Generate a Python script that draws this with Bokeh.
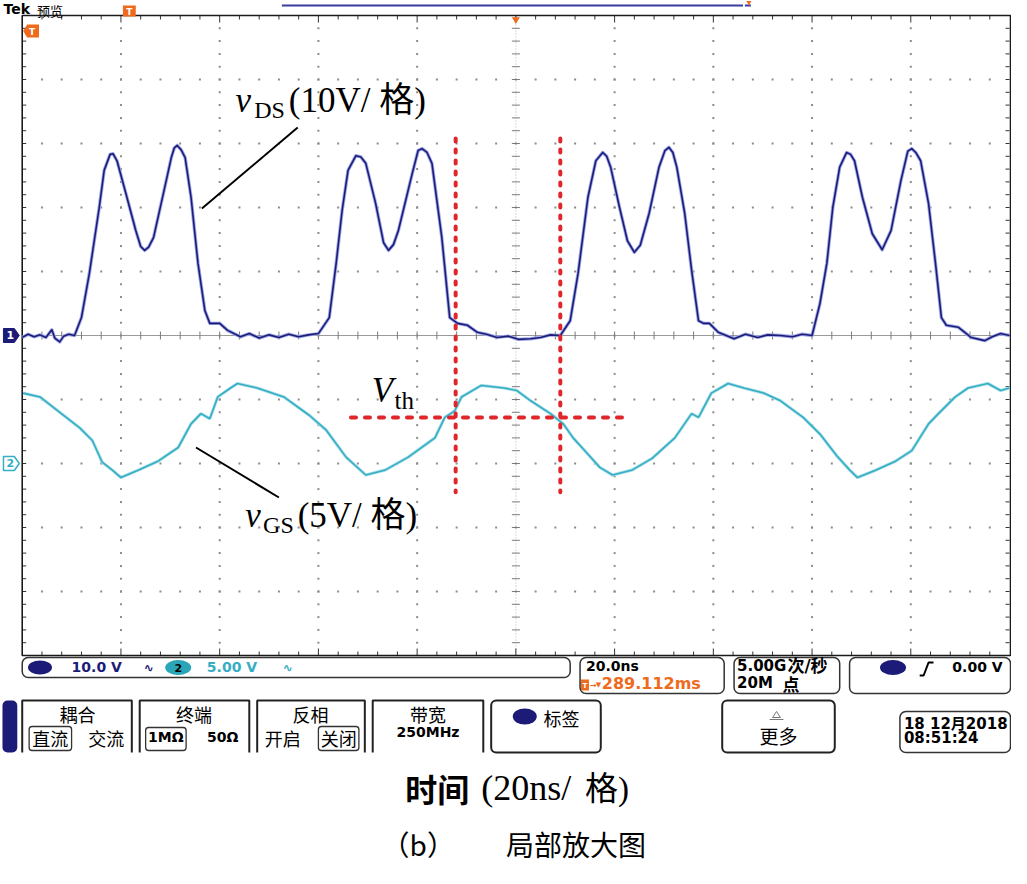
import numpy as np
from bokeh.plotting import figure
from bokeh.models import Range1d
from bokeh.core.properties import value
from bokeh.embed import file_html
from bokeh.resources import INLINE

# ---------------- data ----------------
ns_per_div = 20.0
ch1_volts_per_div = 10.0
ch2_volts_per_div = 5.0
ch2_offset_div = -2.0

seg0_t = [0.0, 1.2, 2.4, 3.6, 4.8, 6.0, 6.6, 7.6, 8.4, 9.4, 10.6]
seg0_v = [-0.3, 0.2, -0.2, 0.1, -0.3, 0.9, -0.4, -1.0, -0.1, 0.2, 0.0]
pulse1_t = [12.0, 13.6, 15.6, 16.6, 17.8, 18.4, 19.2, 21.0, 23.0, 24.0, 24.8, 25.6, 26.6, 28.6, 30.2, 30.8,
            31.4, 32.2, 33.0, 34.2, 35.6, 37.0, 38.0, 40.0, 41.6, 44.2]
pulse1_v = [2.8, 9.7, 20.0, 25.8, 28.3, 28.4, 27.3, 22.2, 16.4, 13.9, 13.3, 13.8, 15.3, 22.2, 27.8, 29.3,
            29.7, 29.0, 27.8, 21.6, 11.3, 3.9, 1.9, 1.9, 0.8, -0.2]
seg1_t = [46.0, 48.0, 50.0, 52.0, 54.0, 56.0, 58.0, 60.0]
seg1_v = [0.3, -0.4, 0.1, -0.3, 0.2, -0.2, 0.1, 0.3]
pulse2_t = [62.2, 63.6, 64.8, 66.0, 67.6, 68.6, 69.6, 71.6, 73.2, 74.2, 75.2, 76.2, 79.0, 80.2, 81.0, 82.0,
            83.0, 85.0, 86.6, 88.2, 90.2, 92.2, 94.0, 96.2, 98.5, 100.5, 103.0, 105.0, 107.0, 109.0]
pulse2_v = [2.8, 11.3, 19.5, 25.8, 28.1, 27.9, 26.9, 20.6, 14.5, 13.3, 14.2, 16.4, 25.3, 28.9, 29.2, 28.6,
            26.9, 15.3, 2.8, 1.9, 1.6, 0.5, 0.2, -0.3, -0.1, -0.6, -0.5, -0.3, 0.1, 0.0]
pulse3_t = [111.0, 112.6, 114.6, 116.2, 117.6, 118.4, 119.2, 121.0, 122.6, 124.0, 125.2, 127.0, 129.0, 130.2,
            131.0, 131.8, 132.6, 134.2, 135.6, 137.0, 138.0, 139.2, 141.0, 144.2]
pulse3_v = [2.3, 9.7, 21.6, 27.3, 28.6, 28.0, 26.3, 20.0, 14.8, 13.0, 14.1, 19.1, 26.3, 28.9,
            29.4, 28.6, 26.3, 19.1, 10.2, 2.3, 1.9, 1.9, 0.5, -0.5]
seg3_t = [146.5, 149.0, 151.0, 153.6, 156.0, 158.0, 160.0]
seg3_v = [0.2, -0.3, 0.1, 0.0, -0.2, 0.2, 0.0]
pulse4_t = [161.6, 163.0, 164.2, 165.6, 167.0, 167.8, 168.6, 170.2, 172.2, 174.2, 176.0, 178.0, 179.4, 180.2,
            181.0, 182.0, 183.6, 185.0, 186.2, 187.2, 189.6, 192.2, 195.0, 196.5, 198.2, 200.0]
pulse4_v = [5.0, 11.3, 20.0, 26.3, 28.6, 28.3, 27.3, 21.6, 15.9, 13.4, 16.4, 24.2, 28.8, 29.2,
            28.6, 27.3, 20.6, 11.3, 2.8, 1.6, 1.3, -0.3, -0.8, -0.2, 0.3, 0.0]

vds_time_ns = seg0_t + pulse1_t + seg1_t + pulse2_t + pulse3_t + seg3_t + pulse4_t
vds_volts = seg0_v + pulse1_v + seg1_v + pulse2_v + pulse3_v + seg3_v + pulse4_v

vgs_time_ns = [0.2, 3.6, 7.6, 11.6, 14.2, 16.2, 18.2, 20.0, 23.6, 27.6, 31.6, 34.2, 36.2, 38.0, 39.6,
               42.2, 43.6, 47.6, 53.0, 58.2, 61.6, 65.6, 69.6, 73.6, 78.2, 83.6, 85.6, 87.6, 89.0,
               93.0, 97.6, 100.2, 103.0, 107.0, 109.6, 111.6, 114.2, 117.0, 119.6, 123.6, 127.6,
               132.2, 135.6, 137.0, 139.6, 143.0, 146.2, 150.2, 153.6, 158.2, 161.6, 165.0, 167.6,
               169.2, 173.0, 177.0, 180.2, 183.6, 185.6, 189.0, 191.6, 195.6, 198.2, 200.0]
vgs_volts = [5.5, 5.2, 4.0, 2.8, 1.8, 0.1, -0.5, -1.1, -0.5, 0.2, 1.25, 3.1, 3.9, 3.5, 5.2,
             5.9, 6.25, 5.9, 5.2, 3.75, 2.6, 0.5, -0.9, -0.5, 0.5, 2.0, 3.6, 4.1, 5.2,
             6.1, 5.9, 5.7, 4.9, 3.9, 3.1, 2.0, 0.9, -0.3, -0.9, -0.5, 0.4,
             2.0, 3.9, 3.6, 5.5, 6.25, 5.9, 5.5, 4.9, 3.6, 2.3, 0.6, -0.5,
             -1.1, -0.5, 0.2, 1.0, 3.1, 3.9, 5.2, 5.9, 6.25, 5.7, 5.9]

cursor_times_ns = [87.8, 109.0]
vth_volts = 3.6

# ---------------- canvas geometry ----------------
W, H = 1011, 868
SX = 0.9873
def cx(r):
    return SX * r
def cy(r):
    return r

GX0, GX1 = cx(22), cx(1022)
GY0, GY1 = cy(15), cy(655)
tspan = 10 * ns_per_div
kx = tspan / (GX1 - GX0)
v1span = 10 * ch1_volts_per_div
k1 = v1span / (GY1 - GY0)
v2top = (5 - ch2_offset_div) * ch2_volts_per_div
v2bot = (-5 - ch2_offset_div) * ch2_volts_per_div
k2 = (v2top - v2bot) / (GY1 - GY0)

p = figure(width=W, height=H, x_range=Range1d(0, W), y_range=Range1d(H, 0),
           output_backend="svg", toolbar_location=None, min_border=0,
           x_axis_type=None, y_axis_type=None)
p.grid.visible = False
p.outline_line_color = None
p.background_fill_color = "white"
p.extra_x_ranges = {"t": Range1d(-GX0 * kx, tspan + (W - GX1) * kx)}
p.extra_y_ranges = {"v1": Range1d(-v1span / 2 - (H - GY1) * k1, v1span / 2 + GY0 * k1),
                    "v2": Range1d(v2bot - (H - GY1) * k2, v2top + GY0 * k2)}

SANS = value("DejaVu Sans")
CJK = value("Noto Sans CJK SC")
MIX = value("'DejaVu Sans', 'Noto Sans CJK SC'")
SERIF = value("'Liberation Serif', 'Noto Sans CJK SC'")
TIMES = value("Liberation Serif")
NAVY = "#1c1c78"
CYAN = "#35aec5"
ORANGE = "#ee6a1c"

def txt(x, y, s, size, color="black", font=SANS, style="normal", align="left", serif=False):
    # compensate the renderer's baseline placement (measured on an earlier picture)
    shift = (0.34 if serif else 0.43) * size
    p.text(x=[cx(x)], y=[cy(y) - shift], text=[s], text_font=font, text_font_size=f"{size}px",
           text_font_style=style, text_color=color, text_align=align, text_baseline="alphabetic")

def box(l, r, t, b, radius=5, lw=1.5, color="#333333", fill=None):
    p.quad(left=[cx(l)], right=[cx(r)], top=[cy(t)], bottom=[cy(b)], fill_color=fill,
           line_color=color, line_width=lw, border_radius=radius)

# ---------------- graticule ----------------
half = v1span / 2
minor_t = np.arange(ns_per_div / 5, tspan, ns_per_div / 5)
minor_v = np.arange(-half + ch1_volts_per_div / 5, half, ch1_volts_per_div / 5)
major_t = [ns_per_div * i for i in range(1, 10) if i != 5]
major_v = [ch1_volts_per_div * i for i in range(-4, 5) if i != 0]

dx, dy = [], []
for v in major_v:
    dx += list(minor_t); dy += [v] * len(minor_t)
for t in major_t:
    dx += [t] * len(minor_v); dy += list(minor_v)
p.scatter(dx, dy, x_range_name="t", y_range_name="v1", marker="square", size=2,
          fill_color="#8c8c8c", line_color=None)

p.line([0, tspan], [0, 0], x_range_name="t", y_range_name="v1", line_color="#9a9a9a", line_width=1.2)
p.line([tspan / 2, tspan / 2], [-half, half], x_range_name="t", y_range_name="v1",
       line_color="#b8b8b8", line_width=1, line_dash="1 2")
tl = 4 * k1
p.segment(x0=minor_t, y0=[-tl] * len(minor_t), x1=minor_t, y1=[tl] * len(minor_t),
          x_range_name="t", y_range_name="v1", line_color="#7a7a7a", line_width=1)
tlx = 4 * kx
p.segment(x0=[tspan / 2 - tlx] * len(minor_v), y0=minor_v, x1=[tspan / 2 + tlx] * len(minor_v), y1=minor_v,
          x_range_name="t", y_range_name="v1", line_color="#7a7a7a", line_width=1)

lens = [(7 if abs(t / ns_per_div - round(t / ns_per_div)) < 1e-6 else 4) * k1 for t in minor_t]
p.segment(x0=minor_t, y0=[half] * len(minor_t), x1=minor_t, y1=[half - l for l in lens],
          x_range_name="t", y_range_name="v1", line_color="#333333", line_width=1)
p.segment(x0=minor_t, y0=[-half] * len(minor_t), x1=minor_t, y1=[-half + l for l in lens],
          x_range_name="t", y_range_name="v1", line_color="#333333", line_width=1)
p.segment(x0=[0] * len(minor_v), y0=minor_v, x1=[tlx] * len(minor_v), y1=minor_v,
          x_range_name="t", y_range_name="v1", line_color="#333333", line_width=1)
p.segment(x0=[tspan] * len(minor_v), y0=minor_v, x1=[tspan - tlx] * len(minor_v), y1=minor_v,
          x_range_name="t", y_range_name="v1", line_color="#333333", line_width=1)

p.quad(left=[cx(22)], right=[cx(1023)], top=[cy(15)], bottom=[cy(655)], fill_color=None,
       line_color="#1a1a1a", line_width=1.6)

# ---------------- traces ----------------
p.line(vgs_time_ns, vgs_volts, x_range_name="t", y_range_name="v2", line_color="#a9dfe8", line_width=3.2)
p.line(vgs_time_ns, vgs_volts, x_range_name="t", y_range_name="v2", line_color=CYAN, line_width=1.6)
p.line(vds_time_ns, vds_volts, x_range_name="t", y_range_name="v1", line_color="#9ea8e6", line_width=3.4,
       line_join="round")
p.line(vds_time_ns, vds_volts, x_range_name="t", y_range_name="v1", line_color=NAVY, line_width=1.6,
       line_join="round")

# ---------------- red cursor lines ----------------
RED = "#e0262b"
for tc in cursor_times_ns:
    p.line([tc, tc], [30.8, -24.5], x_range_name="t", y_range_name="v1", line_color=RED,
           line_width=4, line_dash="3 8", line_cap="round")
p.line([66.6, 122.2], [vth_volts, vth_volts], x_range_name="t", y_range_name="v2", line_color=RED,
       line_width=4, line_dash="5 9", line_cap="round")

# ---------------- annotations ----------------
p.line([cx(301), cx(204)], [cy(127), cy(208)], line_color="black", line_width=2)
p.line([cx(198), cx(282)], [cy(447), cy(497)], line_color="black", line_width=2)
txt(238, 112, "v", 35, font=TIMES, style="italic", serif=True)
txt(257, 118, "DS", 24, font=TIMES, serif=True)
txt(292, 112, "(10V/ 格)", 35, font=SERIF, serif=True)
txt(248, 527, "v", 35, font=TIMES, style="italic", serif=True)
txt(266, 533, "GS", 24, font=TIMES, serif=True)
txt(301, 527, "(5V/ 格)", 35, font=SERIF, serif=True)
txt(376, 402, "V", 35, font=TIMES, style="italic", serif=True)
txt(399, 408, "th", 25, font=TIMES, serif=True)

# ---------------- top bar ----------------
txt(3, 15, "Tek", 14, style="bold")
txt(37, 16, "预览", 13, font=CJK)
p.quad(left=[cx(124)], right=[cx(137)], top=[cy(5)], bottom=[cy(16)], fill_color=ORANGE, line_color=None)
txt(130.5, 15, "T", 9, color="white", style="bold", align="center")
p.line([cx(285), cx(752)], [cy(5), cy(5)], line_color="#3a3aa0", line_width=2)
p.line([cx(754), cx(760)], [cy(5), cy(5)], line_color="#3a3aa0", line_width=2)
p.scatter([cx(758)], [cy(2)], marker="inverted_triangle", size=5, fill_color=ORANGE, line_color=None)
p.scatter([cx(522)], [cy(19)], marker="inverted_triangle", size=8, fill_color=ORANGE, line_color=None)
p.patch([cx(23), cx(27), cx(39), cx(39), cx(27)], [cy(30.5), cy(24), cy(24), cy(37), cy(37)],
        fill_color=ORANGE, line_color=None)
txt(32, 35, "T", 9, color="white", style="bold", align="center")

p.patch([cx(3), cx(14), cx(19), cx(14), cx(3)], [cy(328), cy(328), cy(335), cy(342), cy(342)],
        fill_color=NAVY, line_color=NAVY)
txt(10, 339.5, "1", 11, color="white", style="bold", align="center")
p.patch([cx(3), cx(14), cx(19), cx(14), cx(3)], [cy(456), cy(456), cy(463), cy(470), cy(470)],
        fill_color="white", line_color=CYAN, line_width=1.5)
txt(10, 467.5, "2", 11, color=CYAN, style="bold", align="center")

# ---------------- status bar ----------------
box(22, 577, 657, 677, radius=6)
p.ellipse([cx(40)], [cy(667)], width=24, height=14, fill_color=NAVY, line_color=None)
txt(72, 673, "10.0 V", 14, color=NAVY, style="bold")
txt(145, 673, "∿", 12, color=NAVY, style="bold")
p.ellipse([cx(180)], [cy(667)], width=26, height=15, fill_color="#2ba6b8", line_color=None)
txt(180, 672, "2", 11, color="black", style="bold", align="center")
txt(209, 673, "5.00 V", 14, color=CYAN, style="bold")
txt(286, 673, "∿", 12, color=CYAN, style="bold")

box(587, 733, 657, 693, radius=6)
txt(593, 672, "20.0ns", 14, style="bold")
p.quad(left=[cx(588)], right=[cx(596)], top=[cy(679)], bottom=[cy(690)], fill_color=ORANGE, line_color=None)
txt(592, 688.5, "T", 7, color="white", style="bold", align="center")
txt(597, 688, "→", 8, color=ORANGE, style="bold")
txt(603, 688, "▼", 7, color=ORANGE, style="bold")
txt(609, 690, "289.112ms", 16, color=ORANGE, style="bold")

box(743, 850, 657, 693, radius=6)
txt(746, 672, "5.00G", 15, style="bold")
txt(797, 673, "次/秒", 17, font=MIX, style="bold")
txt(746, 689, "20M", 15, style="bold")
txt(792, 690, "点", 17, font=CJK, style="bold")

box(860, 1023, 657, 693, radius=6)
p.ellipse([cx(904)], [cy(667)], width=26, height=15, fill_color=NAVY, line_color=None)
p.line([cx(931), cx(935), cx(940), cx(945)], [cy(675), cy(675), cy(662), cy(662)], line_color="black", line_width=2)
txt(1015, 673, "0.00 V", 14, style="bold", align="right")

# ---------------- menu row ----------------
p.quad(left=[cx(2)], right=[cx(17)], top=[cy(700)], bottom=[cy(752)], fill_color=NAVY, line_color=None,
       border_radius=5)
for (l, r) in [(22, 133), (141, 252), (260, 369), (377, 489)]:
    p.line([cx(l), cx(l), cx(r), cx(r)], [cy(752), cy(700), cy(700), cy(752)], line_color="#222222", line_width=2)
menu_titles = ["耦合", "终端", "反相", "带宽"]
for (c, s) in zip([78, 196, 314, 433], menu_titles):
    txt(c, 721, s, 18, font=CJK, align="center")
box(29, 72, 726, 750, radius=3, lw=1.3)
txt(50.5, 745, "直流", 18, font=CJK, align="center")
txt(107, 745, "交流", 18, font=CJK, align="center")
box(147, 188, 727, 750, radius=3, lw=1.3)
txt(167.5, 743, "1MΩ", 14, style="bold", align="center")
txt(225, 743, "50Ω", 14, style="bold", align="center")
txt(286, 745, "开启", 18, font=CJK, align="center")
box(322, 363, 726, 750, radius=3, lw=1.3)
txt(342.5, 745, "关闭", 18, font=CJK, align="center")
txt(433, 738, "250MHz", 14, style="bold", align="center")

box(497, 608, 700, 752, radius=5, lw=2, color="#222222")
p.ellipse([cx(531)], [cy(716)], width=24, height=16, fill_color=NAVY, line_color=None)
txt(550, 725, "标签", 18, font=CJK)
box(731, 845, 700, 752, radius=5, lw=2, color="#222222")
p.patch([cx(782), cx(786), cx(790)], [cy(717), cy(711), cy(717)], fill_color="white", line_color="#777777", line_width=1)
p.line([cx(779), cx(793)], [cy(719), cy(719)], line_color="#777777", line_width=1)
txt(788, 743, "更多", 19, font=CJK, align="center")

box(911, 1023, 711, 752, radius=6)
txt(915, 730, "18 12月2018", 15, font=MIX, style="bold")
txt(915, 744, "08:51:24", 15, style="bold")

# ---------------- captions ----------------
txt(410, 801, "时间", 32, font=CJK, style="bold")
txt(487, 800, "(20ns/", 36, font=TIMES, serif=True)
txt(592, 800, "格)", 33, font=SERIF, serif=True)
txt(386, 856, "（b）", 28, font=CJK)
txt(512, 856, "局部放大图", 28, font=CJK)

open("out.html", "w").write(file_html(p, INLINE))
